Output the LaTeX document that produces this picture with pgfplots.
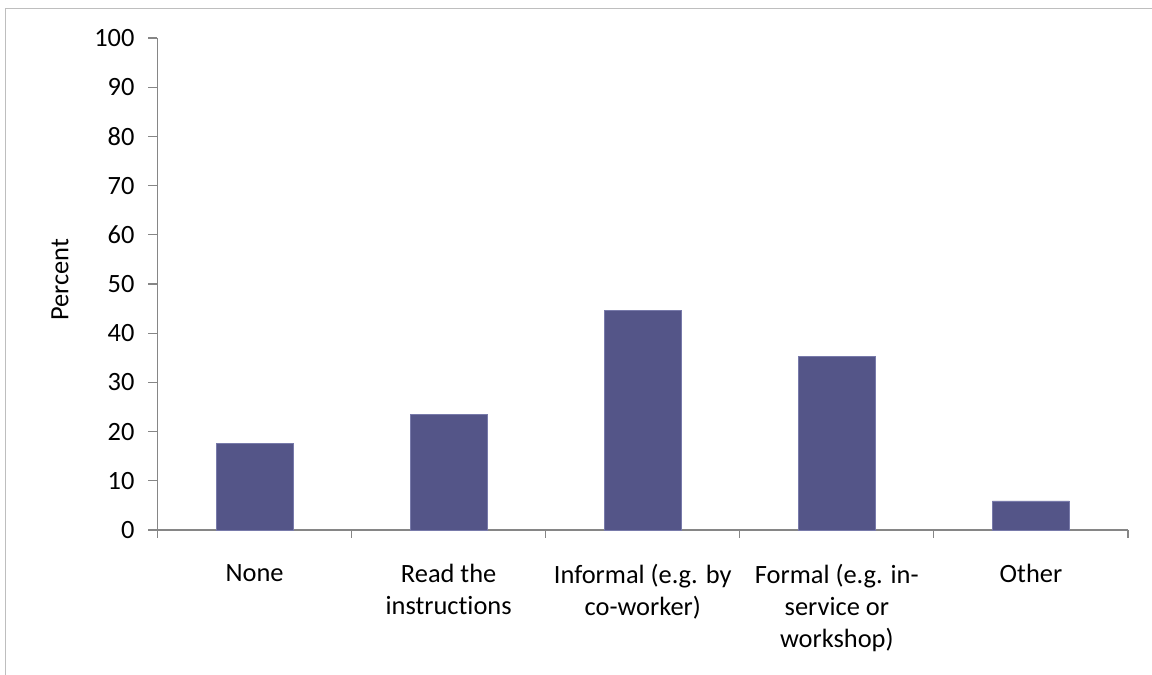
\documentclass[border=0pt]{standalone}
\usepackage{fontspec}
\setmainfont{Carlito}[Ligatures=NoCommon]
\usepackage{pgfplots}
\pgfplotsset{compat=1.18}
\definecolor{barfill}{RGB}{84,85,136}
\definecolor{baredge}{RGB}{120,122,170}
\definecolor{axgray}{RGB}{134,134,134}
\definecolor{framegray}{RGB}{190,190,190}
\begin{document}
\begin{tikzpicture}
\path[use as bounding box] (0,0) rectangle (576pt,337.5pt);
\begin{axis}[
  at={(78.75pt,72.5pt)}, anchor=south west,
  scale only axis,
  width=485.25pt, height=246pt,
  xmin=-0.5, xmax=4.5, ymin=0, ymax=100,
  axis x line*=bottom, axis y line*=left,
  axis line style={axgray, line width=0.6pt, -},
  ytick={0,10,...,100},
  xtick={0,1,2,3,4},
  xticklabels={None, Read the\\instructions, Informal (e.g. by\\co-worker), Formal (e.g. in-\\service or\\workshop), Other},
  minor xtick={-0.5,0.5,1.5,2.5,3.5,4.5},
  tick align=outside,
  major tick length=4.5pt,
  minor tick length=4pt,
  major x tick style={draw=none},
  tick style={axgray, line width=0.6pt},
  /pgf/number format/assume math mode=true,
  ticklabel style={font=\fontsize{13.2}{16}\selectfont},
  yticklabel style={xshift=-3.5pt},
  xticklabel style={align=center, anchor=north, inner sep=0pt, yshift=-12.5pt},
  every axis y label/.style={at={([xshift=-48.75pt,yshift=2pt]axis description cs:0,0.5)}, anchor=center, rotate=90, font=\fontsize{13.2}{16}\selectfont},
  ylabel={Percent},
  clip=false,
]
\addplot[ybar, bar width=38.5pt, fill=barfill, draw=baredge, line width=0.4pt] coordinates {
(0,17.6) (1,23.4) (2,44.7) (3,35.3) (4,5.9)
};
\end{axis}
\draw[framegray, line width=0.75pt] (2.75pt,-1pt) -- (2.75pt,333.25pt) -- (580pt,333.25pt);
\end{tikzpicture}
\end{document}
